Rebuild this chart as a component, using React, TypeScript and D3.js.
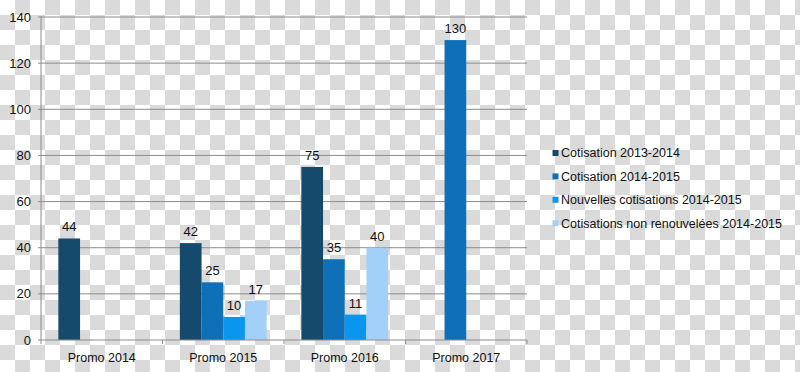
import React from "react";
import * as d3 from "d3";

const categories = ["Promo 2014", "Promo 2015", "Promo 2016", "Promo 2017"];
const seriesNames = [
  "Cotisation 2013-2014",
  "Cotisation 2014-2015",
  "Nouvelles cotisations 2014-2015",
  "Cotisations non renouvelées 2014-2015",
];
const cotisation1314: (number | null)[] = [44, 42, 75, null];
const cotisation1415: (number | null)[] = [null, 25, 35, 130];
const nouvelles1415: (number | null)[] = [null, 10, 11, null];
const nonRenouvelees1415: (number | null)[] = [null, 17, 40, null];
const yTicks = [0, 20, 40, 60, 80, 100, 120, 140];
const colors = ["#154a6c", "#0f70b8", "#0a95ef", "#a3d0f8"];

const W = 800;
const H = 372;
const left = 41;
const right = 527;
const top = 17;
const bottom = 340;
const font = "'Liberation Sans', Arial, Helvetica, sans-serif";

export default function App() {
  const seriesValues = [cotisation1314, cotisation1415, nouvelles1415, nonRenouvelees1415];
  const x = d3.scaleBand<string>().domain(categories).range([left, right]).padding(0);
  const x1 = d3
    .scaleBand<string>()
    .domain(seriesNames)
    .range([0, x.bandwidth()])
    .paddingOuter(0.8)
    .paddingInner(0);
  const y = d3.scaleLinear().domain([0, 140]).range([bottom, top]);

  return (
    <div style={{ position: "absolute", left: 0, top: 0 }}>
      <style>{`body{margin:0}`}</style>
      <svg width={W} height={H} style={{ display: "block" }}>
        <defs>
          <pattern id="checker" width={30} height={30} patternUnits="userSpaceOnUse">
            <rect width={30} height={30} fill="#ffffff" />
            <rect x={15} y={0} width={15} height={15} fill="#dadada" />
            <rect x={0} y={15} width={15} height={15} fill="#dadada" />
          </pattern>
        </defs>
        <rect width={W} height={H} fill="url(#checker)" />

        {/* gridlines */}
        {yTicks.map((t) => (
          <g key={t}>
            {t > 0 && (
              <line x1={left - 3} x2={right} y1={y(t)} y2={y(t)} stroke="#8c8c8c" strokeWidth={1} />
            )}
            <text
              x={31}
              y={y(t)}
              dy="0.35em"
              textAnchor="end"
              fontFamily={font}
              fontSize={13}
              fill="#111"
            >
              {t}
            </text>
          </g>
        ))}

        {/* bars */}
        {categories.map((c, ci) => (
          <g key={c}>
            {seriesValues.map((vals, si) => {
              const v = vals[ci];
              if (v == null) return null;
              const bx = (x(c) as number) + (x1(seriesNames[si]) as number);
              const bw = x1.bandwidth();
              return (
                <g key={si}>
                  <rect x={bx} y={y(v)} width={bw} height={y(0) - y(v)} fill={colors[si]} />
                  <text
                    x={bx + bw / 2}
                    y={y(v) - 7}
                    textAnchor="middle"
                    fontFamily={font}
                    fontSize={13}
                    fill="#111"
                  >
                    {v}
                  </text>
                </g>
              );
            })}
          </g>
        ))}

        {/* axes */}
        <line x1={left} x2={left} y1={top - 1} y2={bottom + 4} stroke="#8c8c8c" />
        <line x1={left - 3} x2={right} y1={bottom} y2={bottom} stroke="#8c8c8c" />
        {categories.map((c, i) => (
          <line
            key={"t" + i}
            x1={(x(c) as number) + x.bandwidth()}
            x2={(x(c) as number) + x.bandwidth()}
            y1={bottom}
            y2={bottom + 4}
            stroke="#8c8c8c"
          />
        ))}
        {categories.map((c) => (
          <text
            key={"l" + c}
            x={(x(c) as number) + x.bandwidth() / 2}
            y={362}
            textAnchor="middle"
            fontFamily={font}
            fontSize={12.5}
            fill="#111"
          >
            {c}
          </text>
        ))}

        {/* legend */}
        {seriesNames.map((s, i) => {
          const cy = 153 + i * 23.4;
          return (
            <g key={s}>
              <rect x={552.5} y={cy - 3} width={6} height={6} fill={colors[i]} />
              <text
                x={561}
                y={cy}
                dy="0.35em"
                fontFamily={font}
                fontSize={12.5}
                fill="#111"
              >
                {s}
              </text>
            </g>
          );
        })}
      </svg>
    </div>
  );
}
